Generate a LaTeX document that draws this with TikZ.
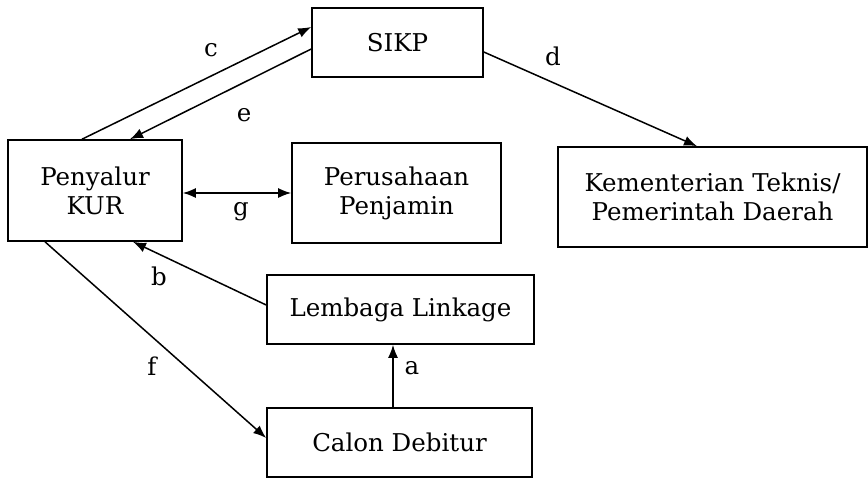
\documentclass[tikz,border=0pt]{standalone}
\usepackage{fontspec}
\setmainfont{DejaVu Serif}
\usetikzlibrary{arrows.meta}
\begin{document}
\begin{tikzpicture}[
    x=1pt, y=-1pt,
    font=\fontsize{24.5}{29}\selectfont,
    % All boxes: plain black frame
    box/.style={draw=black, line width=1.6pt, align=center,
                inner sep=0pt},
    % Letter labels on the connectors
    lbl/.style={font=\fontsize{24.5}{28}\selectfont, inner sep=0pt},
    % Arrows
    arr/.style={-{Latex[length=13pt,width=10pt]}, line width=1.5pt},
    darr/.style={{Latex[length=13pt,width=10pt]}-{Latex[length=13pt,width=10pt]}, line width=1.5pt},
]

\useasboundingbox (0,0) rectangle (868,479);

%% -- Boxes --
\node[box, minimum width=171pt, minimum height=69pt]  (sikp) at (397.5, 42.5) {SIKP};
\node[box, minimum width=174pt, minimum height=101pt] (pkur) at (95, 190.5)   {Penyalur\\KUR};
\node[box, minimum width=209pt, minimum height=100pt] (pjmn) at (396.5, 193)  {Perusahaan\\Penjamin};
\node[box, minimum width=309pt, minimum height=100pt] (kmtr) at (712.5, 197)  {Kementerian Teknis/\\Pemerintah Daerah};
\node[box, minimum width=267pt, minimum height=69pt]  (lmbg) at (400.5, 309.5) {Lembaga Linkage};
\node[box, minimum width=265pt, minimum height=69pt]  (cdeb) at (399.5, 442.5) {Calon Debitur};

%% -- Connectors --
\draw[arr]  ([xshift=-13pt]pkur.north) -- ([yshift=15.5pt]sikp.west);
\draw[arr]  ([yshift=-6.5pt]sikp.west) -- ([xshift=35pt]pkur.north);
\draw[arr]  ([yshift=-9.5pt]sikp.east) -- ([xshift=-15.5pt]kmtr.north);
\draw[darr] ([yshift=-2.5pt]pkur.east) -- (pjmn.west);
\draw[arr]  ([yshift=4.5pt]lmbg.west)  -- ([xshift=38pt]pkur.south);
\draw[arr]  ([xshift=-50pt]pkur.south) -- ([yshift=4.5pt]cdeb.west);
\draw[arr]  ([xshift=-6.5pt]cdeb.north) -- ([xshift=-6.5pt]cdeb.north |- lmbg.south);

%% -- Connector labels --
\node[lbl] (lc) at (211, 50)  {c};
\node[lbl] (le) at (244, 115) {e};
\node[lbl] (ld) at (553, 56)  {d};
\node[lbl] (lg) at (241, 212) {g};
\node[lbl] (lb) at (159, 276) {b};
\node[lbl] (lf) at (152, 366) {f};
\node[lbl] (la) at (412, 368) {a};

\end{tikzpicture}
\end{document}
